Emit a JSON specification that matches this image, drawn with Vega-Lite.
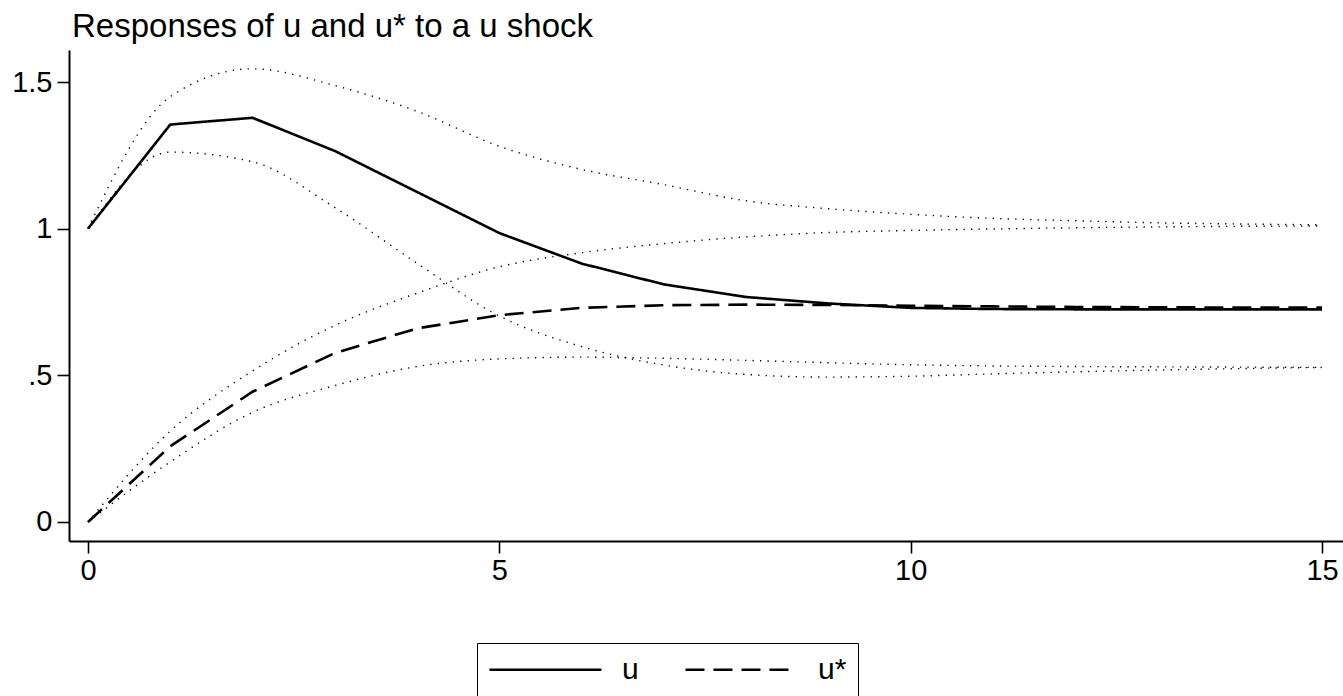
{
  "$schema": "https://vega.github.io/schema/vega-lite/v6.json",
  "autosize": "none",
  "padding": {"left": 69, "top": 50, "right": 0, "bottom": 155},
  "width": 1274,
  "height": 491,
  "background": "white",
  "title": {"text": "Responses of u and u* to a u shock", "anchor": "start", "frame": "group", "fontSize": 33, "fontWeight": "normal", "font": "Liberation Sans", "color": "black", "offset": 6, "dx": 3},
  "data": {"values": [
    {"step": 0, "series": "u", "irf": 1, "lower": 1, "upper": 1},
    {"step": 1, "series": "u", "irf": 1.355, "lower": 1.261, "upper": 1.45},
    {"step": 2, "series": "u", "irf": 1.378, "lower": 1.228, "upper": 1.545},
    {"step": 3, "series": "u", "irf": 1.265, "lower": 1.072, "upper": 1.488},
    {"step": 4, "series": "u", "irf": 1.125, "lower": 0.882, "upper": 1.4},
    {"step": 5, "series": "u", "irf": 0.985, "lower": 0.702, "upper": 1.281},
    {"step": 6, "series": "u", "irf": 0.881, "lower": 0.598, "upper": 1.202},
    {"step": 7, "series": "u", "irf": 0.81, "lower": 0.535, "upper": 1.15},
    {"step": 8, "series": "u", "irf": 0.767, "lower": 0.503, "upper": 1.095},
    {"step": 9, "series": "u", "irf": 0.745, "lower": 0.494, "upper": 1.068},
    {"step": 10, "series": "u", "irf": 0.73, "lower": 0.497, "upper": 1.049},
    {"step": 11, "series": "u", "irf": 0.726, "lower": 0.505, "upper": 1.035},
    {"step": 12, "series": "u", "irf": 0.725, "lower": 0.512, "upper": 1.027},
    {"step": 13, "series": "u", "irf": 0.725, "lower": 0.518, "upper": 1.02},
    {"step": 14, "series": "u", "irf": 0.725, "lower": 0.523, "upper": 1.016},
    {"step": 15, "series": "u", "irf": 0.725, "lower": 0.527, "upper": 1.013},
    {"step": 0, "series": "u*", "irf": 0, "lower": 0, "upper": 0},
    {"step": 1, "series": "u*", "irf": 0.258, "lower": 0.205, "upper": 0.31},
    {"step": 2, "series": "u*", "irf": 0.444, "lower": 0.374, "upper": 0.515},
    {"step": 3, "series": "u*", "irf": 0.576, "lower": 0.465, "upper": 0.67},
    {"step": 4, "series": "u*", "irf": 0.66, "lower": 0.53, "upper": 0.78},
    {"step": 5, "series": "u*", "irf": 0.705, "lower": 0.556, "upper": 0.87},
    {"step": 6, "series": "u*", "irf": 0.73, "lower": 0.562, "upper": 0.918},
    {"step": 7, "series": "u*", "irf": 0.739, "lower": 0.558, "upper": 0.949},
    {"step": 8, "series": "u*", "irf": 0.741, "lower": 0.551, "upper": 0.972},
    {"step": 9, "series": "u*", "irf": 0.74, "lower": 0.543, "upper": 0.987},
    {"step": 10, "series": "u*", "irf": 0.737, "lower": 0.536, "upper": 0.994},
    {"step": 11, "series": "u*", "irf": 0.735, "lower": 0.532, "upper": 0.999},
    {"step": 12, "series": "u*", "irf": 0.733, "lower": 0.53, "upper": 1.003},
    {"step": 13, "series": "u*", "irf": 0.732, "lower": 0.529, "upper": 1.006},
    {"step": 14, "series": "u*", "irf": 0.731, "lower": 0.528, "upper": 1.008},
    {"step": 15, "series": "u*", "irf": 0.731, "lower": 0.527, "upper": 1.009}
  ]},
  "encoding": {
    "x": {"field": "step", "type": "quantitative", "title": null,
      "scale": {"domain": [-0.231, 15.255], "nice": false, "zero": false},
      "axis": {"values": [0, 5, 10, 15], "format": "d"}}
  },
  "layer": [
    {
      "mark": {"type": "line", "color": "black", "strokeWidth": 1.4, "strokeDash": [1.3, 6.2], "interpolate": "monotone"},
      "encoding": {
        "y": {"field": "lower", "type": "quantitative", "title": null,
          "scale": {"domain": [-0.0648, 1.6091], "nice": false, "zero": false},
          "axis": {"values": [0, 0.5, 1, 1.5], "format": "~g", "labelExpr": "datum.value == 0.5 ? '.5' : datum.label"}},
        "detail": {"field": "series"}
      }
    },
    {
      "mark": {"type": "line", "color": "black", "strokeWidth": 1.4, "strokeDash": [1.3, 6.2], "interpolate": "monotone"},
      "encoding": {
        "y": {"field": "upper", "type": "quantitative"},
        "detail": {"field": "series"}
      }
    },
    {
      "mark": {"type": "line", "color": "black", "strokeWidth": 2.6},
      "encoding": {
        "y": {"field": "irf", "type": "quantitative"},
        "strokeDash": {"field": "series", "type": "nominal", "title": null,
          "scale": {"domain": ["u", "u*"], "range": [[1, 0], [19, 9]]},
          "legend": {"orient": "none", "legendX": 408, "legendY": 593, "direction": "horizontal",
            "symbolType": "M-4,0H4", "symbolSize": 784, "symbolOffset": 42, "symbolStrokeWidth": 2.4, "symbolStrokeColor": "black",
            "labelFontSize": 30, "labelFont": "Liberation Sans", "labelColor": "black", "labelOffset": 61,
            "columnPadding": 41, "padding": 11, "strokeColor": "black"}
        }
      }
    }
  ],
  "config": {
    "view": {"stroke": null},
    "axis": {"grid": false, "domainColor": "black", "domainWidth": 2, "tickColor": "black", "tickWidth": 1.6, "tickSize": 12,
      "labelFont": "Liberation Sans", "labelFontSize": 29, "labelColor": "black", "labelPadding": 4},
    "axisY": {"labelPadding": 5},
    "axisX": {"labelPadding": 3}
  }
}
